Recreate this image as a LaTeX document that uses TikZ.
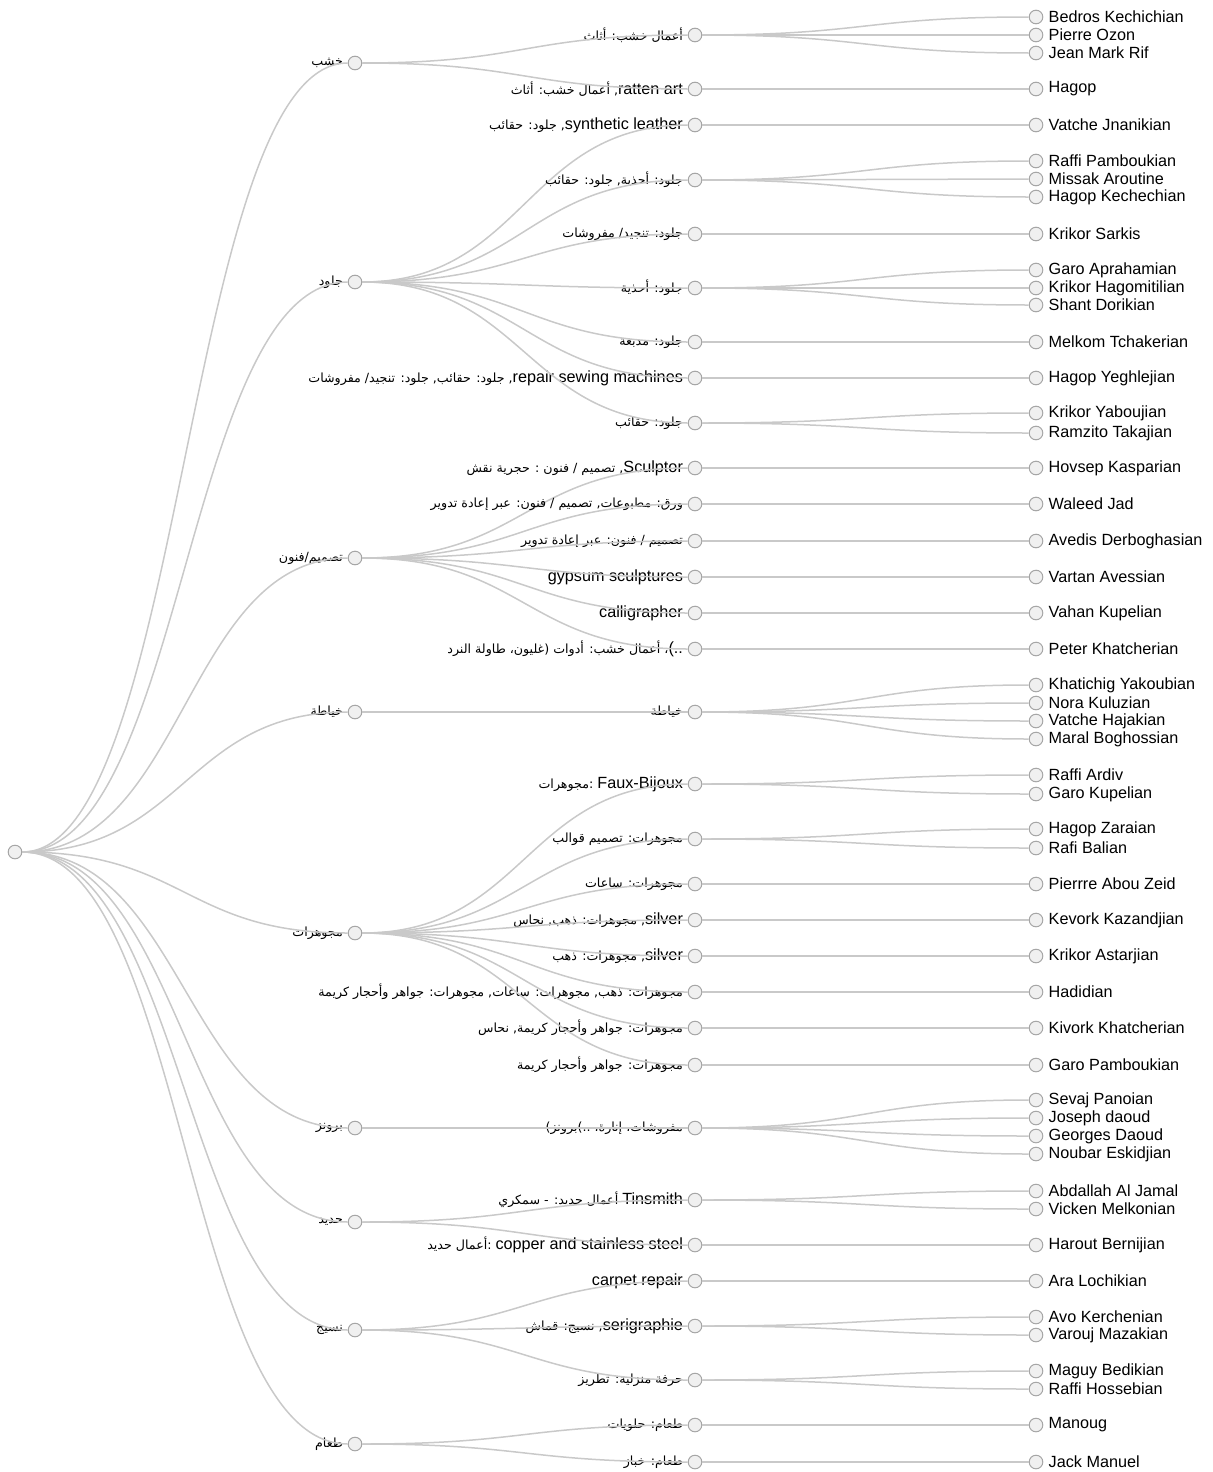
\documentclass[tikz,border=0pt]{standalone}
\usepackage{fontspec}
\setmainfont{Liberation Sans}
\newfontfamily\arabicfont[Script=Arabic,Scale=0.78]{DejaVu Sans}
\TeXXeTstate=1
\usetikzlibrary{positioning, calc}

\newcommand\arab[1]{{\arabicfont\beginR #1\endR}}
\newcommand\lat[1]{\beginL{\rmfamily #1}\endL}
\newcommand\lnk[2]{\draw[link] let \p1=(#1.east), \p2=(#2.west) in (\p1) .. controls ({0.5*\x1+0.5*\x2},\y1) and ({0.5*\x1+0.5*\x2},\y2) .. (\p2);}

\begin{document}
\begin{tikzpicture}[
    x=0.5pt, y=-0.5pt,
    dot/.style={circle, draw=gray!70, fill=gray!12, line width=0.5pt, minimum size=6.8pt, inner sep=0pt},
    link/.style={draw=gray!42, line width=0.75pt},
    lbl/.style={inner sep=0pt, font=\fontsize{8.1}{9.5}\selectfont}
    ]
    \useasboundingbox (0,0) rectangle (1213,1472);

    % Root
    \node[dot] (root) at (15,852) {};

    % Crafts
    \foreach \k/\y/\t in {wood/63/{خشب}, leather/282/{جلود}, arts/558/{تصميم/فنون},
        tailor/712/{خياطة}, jewel/933/{مجوهرات}, bronze/1128/{برونز},
        iron/1222/{حديد}, textile/1330/{نسيج}, food/1444/{طعام}}
    {
        \node[dot] (\k) at (355,\y) {};
        \node[lbl, left=2.2pt of \k] {\arab{\t}};
        \lnk{root}{\k}
    }

    % Specialities
    \foreach \k/\y/\up/\t in {
        s1/35/wood/{\arab{أعمال خشب: أثاث}},
        s2/89/wood/{\arab{\lat{ratten art}, أعمال خشب: أثاث}},
        s3/125/leather/{\arab{\lat{synthetic leather}, جلود: حقائب}},
        s4/180/leather/{\arab{جلود: أحذية, جلود: حقائب}},
        s5/234/leather/{\arab{جلود: تنجيد/ مفروشات}},
        s6/288/leather/{\arab{جلود: أحذية}},
        s7/342/leather/{\arab{جلود: مدبغة}},
        s8/378/leather/{\arab{\lat{repair sewing machines}, جلود: حقائب, جلود: تنجيد/ مفروشات}},
        s9/423/leather/{\arab{جلود: حقائب}},
        s10/468/arts/{\arab{\lat{Sculptor}, تصميم / فنون : حجرية نقش}},
        s11/504/arts/{\arab{ورق: مطبوعات, تصميم / فنون: عبر إعادة تدوير}},
        s12/541/arts/{\arab{تصميم / فنون: عبر إعادة تدوير}},
        s13/577/arts/{gypsum sculptures},
        s14/613/arts/{calligrapher},
        s15/649/arts/{\arab{\lat{(..}، أعمال خشب: أدوات (غليون، طاولة النرد}},
        s16/712/tailor/{\arab{خياطة}},
        s17/784/jewel/{\arab{\lat{Faux-Bijoux} :مجوهرات}},
        s18/839/jewel/{\arab{مجوهرات: تصميم قوالب}},
        s19/884/jewel/{\arab{مجوهرات: ساعات}},
        s20/920/jewel/{\arab{\lat{silver}, مجوهرات: ذهب, نحاس}},
        s21/956/jewel/{\arab{\lat{silver}, مجوهرات: ذهب}},
        s22/992/jewel/{\arab{مجوهرات: ذهب, مجوهرات: ساعات, مجوهرات: جواهر وأحجار كريمة}},
        s23/1028/jewel/{\arab{مجوهرات: جواهر وأحجار كريمة, نحاس}},
        s24/1065/jewel/{\arab{مجوهرات: جواهر وأحجار كريمة}},
        s25/1128/bronze/{\arab{مفروشات، إنارة، ..)برونز)}},
        s26/1200/iron/{\arab{\lat{Tinsmith} أعمال حديد: - سمكري}},
        s27/1245/iron/{\arab{\lat{copper and stainless steel} :أعمال حديد}},
        s28/1281/textile/{carpet repair},
        s29/1326/textile/{\arab{\lat{serigraphie}, نسيج: قماش}},
        s30/1380/textile/{\arab{حرفة منزلية: تطريز}},
        s31/1425/food/{\arab{طعام: حلويات}},
        s32/1462/food/{\arab{طعام: خباز}}}
    {
        \node[dot] (\k) at (695,\y) {};
        \node[lbl, left=2.2pt of \k] {\t};
        \lnk{\up}{\k}
    }

    % Craftsmen
    \foreach \k/\y/\up/\t in {
        p1/17/s1/Bedros Kechichian, p2/35/s1/Pierre Ozon, p3/53/s1/Jean Mark Rif,
        p4/89/s2/Hagop, p5/125/s3/Vatche Jnanikian,
        p6/161/s4/Raffi Pamboukian, p7/179/s4/Missak Aroutine, p8/197/s4/Hagop Kechechian,
        p9/234/s5/Krikor Sarkis,
        p10/270/s6/Garo Aprahamian, p11/288/s6/Krikor Hagomitilian, p12/305/s6/Shant Dorikian,
        p13/342/s7/Melkom Tchakerian, p14/378/s8/Hagop Yeghlejian,
        p15/413/s9/Krikor Yaboujian, p16/433/s9/Ramzito Takajian,
        p17/468/s10/Hovsep Kasparian, p18/504/s11/Waleed Jad,
        p19/541/s12/Avedis Derboghasian, p20/577/s13/Vartan Avessian,
        p21/613/s14/Vahan Kupelian, p22/649/s15/Peter Khatcherian,
        p23/685/s16/Khatichig Yakoubian, p24/703/s16/Nora Kuluzian,
        p25/721/s16/Vatche Hajakian, p26/739/s16/Maral Boghossian,
        p27/775/s17/Raffi Ardiv, p28/794/s17/Garo Kupelian,
        p29/829/s18/Hagop Zaraian, p30/848/s18/Rafi Balian,
        p31/884/s19/Pierrre Abou Zeid, p32/920/s20/Kevork Kazandjian,
        p33/956/s21/Krikor Astarjian, p34/992/s22/Hadidian,
        p35/1028/s23/Kivork Khatcherian, p36/1065/s24/Garo Pamboukian,
        p37/1100/s25/Sevaj Panoian, p38/1118/s25/Joseph daoud,
        p39/1136/s25/Georges Daoud, p40/1154/s25/Noubar Eskidjian,
        p41/1191/s26/Abdallah Al Jamal, p42/1209/s26/Vicken Melkonian,
        p43/1245/s27/Harout Bernijian, p44/1281/s28/Ara Lochikian,
        p45/1317/s29/Avo Kerchenian, p46/1335/s29/Varouj Mazakian,
        p47/1371/s30/Maguy Bedikian, p48/1389/s30/Raffi Hossebian,
        p49/1425/s31/Manoug, p50/1462/s32/Jack Manuel}
    {
        \node[dot] (\k) at (1036,\y) {};
        \node[lbl, right=2.5pt of \k] {\t};
        \lnk{\up}{\k}
    }
\end{tikzpicture}
\end{document}
